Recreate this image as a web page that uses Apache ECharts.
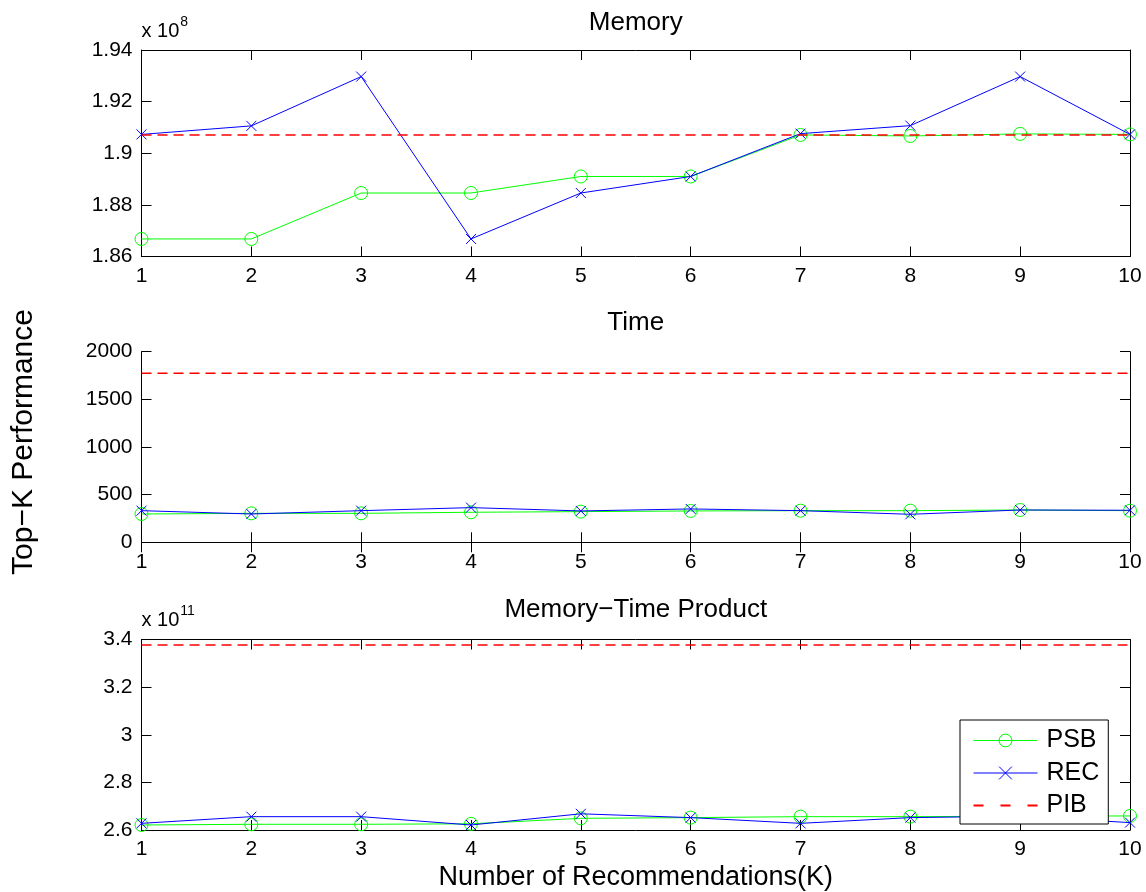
<!DOCTYPE html>
<html>
<head>
<meta charset="utf-8">
<script src="https://cdn.jsdelivr.net/npm/echarts@6/dist/echarts.min.js"></script>
<style>
  html, body { margin: 0; padding: 0; background: #fff; }
  #chart { width: 1146px; height: 892px; }
</style>
</head>
<body>
<div id="chart"></div>
<script>
// Number of recommendations K
const ks = [1, 2, 3, 4, 5, 6, 7, 8, 9, 10];

// Memory (x 10^8)
const memPSB = [1.8668, 1.8668, 1.8846, 1.8846, 1.8910, 1.8910, 1.9071, 1.9067, 1.9075, 1.9073];
const memREC = [1.9073, 1.9106, 1.9297, 1.8668, 1.8846, 1.8910, 1.9076, 1.9107, 1.9297, 1.9073];
const memPIB = 1.9071;

// Time
const timePSB = [297, 304, 304, 315, 322, 329, 332, 332, 339, 332];
const timeREC = [332, 297, 332, 364, 329, 350, 332, 294, 339, 336];
const timePIB = 1773;

// Memory-time product (x 10^11)
const prodPSB = [2.621, 2.624, 2.624, 2.626, 2.649, 2.652, 2.656, 2.656, 2.658, 2.659];
const prodREC = [2.628, 2.656, 2.656, 2.621, 2.668, 2.652, 2.628, 2.652, 2.658, 2.631];
const prodPIB = 3.377;

const panelTitles = ['Memory', 'Time', 'Memory\u2212Time Product'];
const exponents = ['8', null, '11'];
const yRanges = [
  { min: 1.86, max: 1.94, interval: 0.02 },
  { min: 0, max: 2000, interval: 500 },
  { min: 2.6, max: 3.4, interval: 0.2 }
];

const FONT = 'Liberation Sans, Arial, Helvetica, sans-serif';
const GREEN = '#00ff00', BLUE = '#0000ff', RED = '#ff0000';
const X_MARK = 'path://M0,0L10,10M10,0L0,10';
// legend icon for the dashed baseline: three short dashes across a 64x16 box
const DASH_ICON = 'path://M0,0M64,16M0,7h10v2h-10zM27,7h10v2h-10zM54,7h10v2h-10z';

const grids = [
  { left: 141.5, top: 50, width: 988.5, height: 206.5 },
  { left: 141.5, top: 351.7, width: 988.5, height: 190.6 },
  { left: 141.5, top: 639.5, width: 988.5, height: 190.5 }
];
// vertical centres of the panel titles
const titleCentres = [23, 323, 610];

const tickStyle = { inside: true, length: 10, lineStyle: { color: '#000', width: 1 } };
const lineAx = { show: true, lineStyle: { color: '#000', width: 1 } };
const labelStyle = { color: '#000', fontFamily: FONT, fontSize: 21 };

const xAxes = [], yAxes = [], series = [];

function fmt(v) { return String(+v.toFixed(2)); }

grids.forEach((g, i) => {
  // bottom axis with labels, top axis for the box ticks
  xAxes.push({
    gridIndex: i, type: 'value', min: 1, max: 10, interval: 1, position: 'bottom',
    axisLine: lineAx, axisTick: tickStyle, splitLine: { show: false },
    axisLabel: Object.assign({ margin: 9 }, labelStyle),
    name: i === 2 ? 'Number of Recommendations(K)' : '',
    nameLocation: 'middle', nameGap: 34,
    nameTextStyle: { color: '#000', fontFamily: FONT, fontSize: 27 }
  });
  xAxes.push({
    gridIndex: i, type: 'value', min: 1, max: 10, interval: 1, position: 'top',
    axisLine: lineAx, axisTick: tickStyle, splitLine: { show: false },
    axisLabel: { show: false }
  });
  const r = yRanges[i];
  yAxes.push({
    gridIndex: i, type: 'value', min: r.min, max: r.max, interval: r.interval, position: 'left',
    axisLine: lineAx, axisTick: tickStyle, splitLine: { show: false },
    axisLabel: Object.assign({ margin: 9, formatter: fmt }, labelStyle),
    name: exponents[i] ? '{a|x 10}{b|' + exponents[i] + '}' : '',
    nameLocation: 'end', nameGap: 9,
    nameTextStyle: {
      align: 'left', verticalAlign: 'bottom', padding: [0, 0, 0, 0],
      rich: {
        a: { fontFamily: FONT, fontSize: 20, color: '#000', verticalAlign: 'bottom' },
        b: { fontFamily: FONT, fontSize: 14, color: '#000', verticalAlign: 'top', padding: [0, 0, 12, 1] }
      }
    }
  });
  yAxes.push({
    gridIndex: i, type: 'value', min: r.min, max: r.max, interval: r.interval, position: 'right',
    axisLine: lineAx, axisTick: tickStyle, splitLine: { show: false },
    axisLabel: { show: false }
  });
});

const panels = [
  [memPSB, memREC, memPIB],
  [timePSB, timeREC, timePIB],
  [prodPSB, prodREC, prodPIB]
];

panels.forEach((p, i) => {
  const xi = i * 2, yi = i * 2;
  series.push({
    name: 'PSB', type: 'line', xAxisIndex: xi, yAxisIndex: yi,
    data: ks.map((k, j) => [k, p[0][j]]),
    symbol: 'circle', symbolSize: 13,
    itemStyle: { color: 'rgba(0,0,0,0)', borderColor: GREEN, borderWidth: 1 },
    lineStyle: { color: GREEN, width: 1 },
    animation: false, z: 2
  });
  series.push({
    name: 'REC', type: 'line', xAxisIndex: xi, yAxisIndex: yi,
    data: ks.map((k, j) => [k, p[1][j]]),
    symbol: X_MARK, symbolSize: 10,
    itemStyle: { color: 'rgba(0,0,0,0)', borderColor: BLUE, borderWidth: 1 },
    lineStyle: { color: BLUE, width: 1 },
    animation: false, z: 3
  });
  series.push({
    name: 'PIB', type: 'line', xAxisIndex: xi, yAxisIndex: yi,
    data: [[ks[0], p[2]], [ks[ks.length - 1], p[2]]],
    symbol: 'none',
    itemStyle: { color: RED },
    lineStyle: { color: RED, width: 1.5, type: [10, 6] },
    animation: false, z: 4
  });
});

const titles = panelTitles.map((t, i) => ({
  text: t, left: grids[i].left + grids[i].width / 2, textAlign: 'center',
  top: titleCentres[i] - 14, padding: 0,
  textStyle: { color: '#000', fontFamily: FONT, fontSize: 26, fontWeight: 'normal', lineHeight: 28 }
}));

const chart = echarts.init(document.getElementById('chart'), null, { renderer: 'canvas' });
chart.setOption({
  backgroundColor: '#fff',
  animation: false,
  title: titles,
  grid: grids,
  xAxis: xAxes,
  yAxis: yAxes,
  series: series,
  legend: {
    data: [
      { name: 'PSB' },
      { name: 'REC' },
      { name: 'PIB', icon: DASH_ICON }
    ],
    orient: 'vertical', left: 960, top: 720,
    padding: [8, 9, 6, 13], itemGap: 7.5,
    itemWidth: 64, itemHeight: 16,
    itemStyle: { borderWidth: 1 },
    lineStyle: { width: 1 },
    backgroundColor: '#fff', borderColor: '#000', borderWidth: 1, borderRadius: 0,
    textStyle: { color: '#000', fontFamily: FONT, fontSize: 25, padding: [0, 0, 0, 4] },
    selectedMode: false
  },
  graphic: [{
    type: 'text', rotation: Math.PI / 2,
    x: 24, y: 442,
    style: { text: 'Top\u2212K Performance', fill: '#000', font: '30px ' + FONT, align: 'center', verticalAlign: 'middle' }
  }]
});
</script>
</body>
</html>
